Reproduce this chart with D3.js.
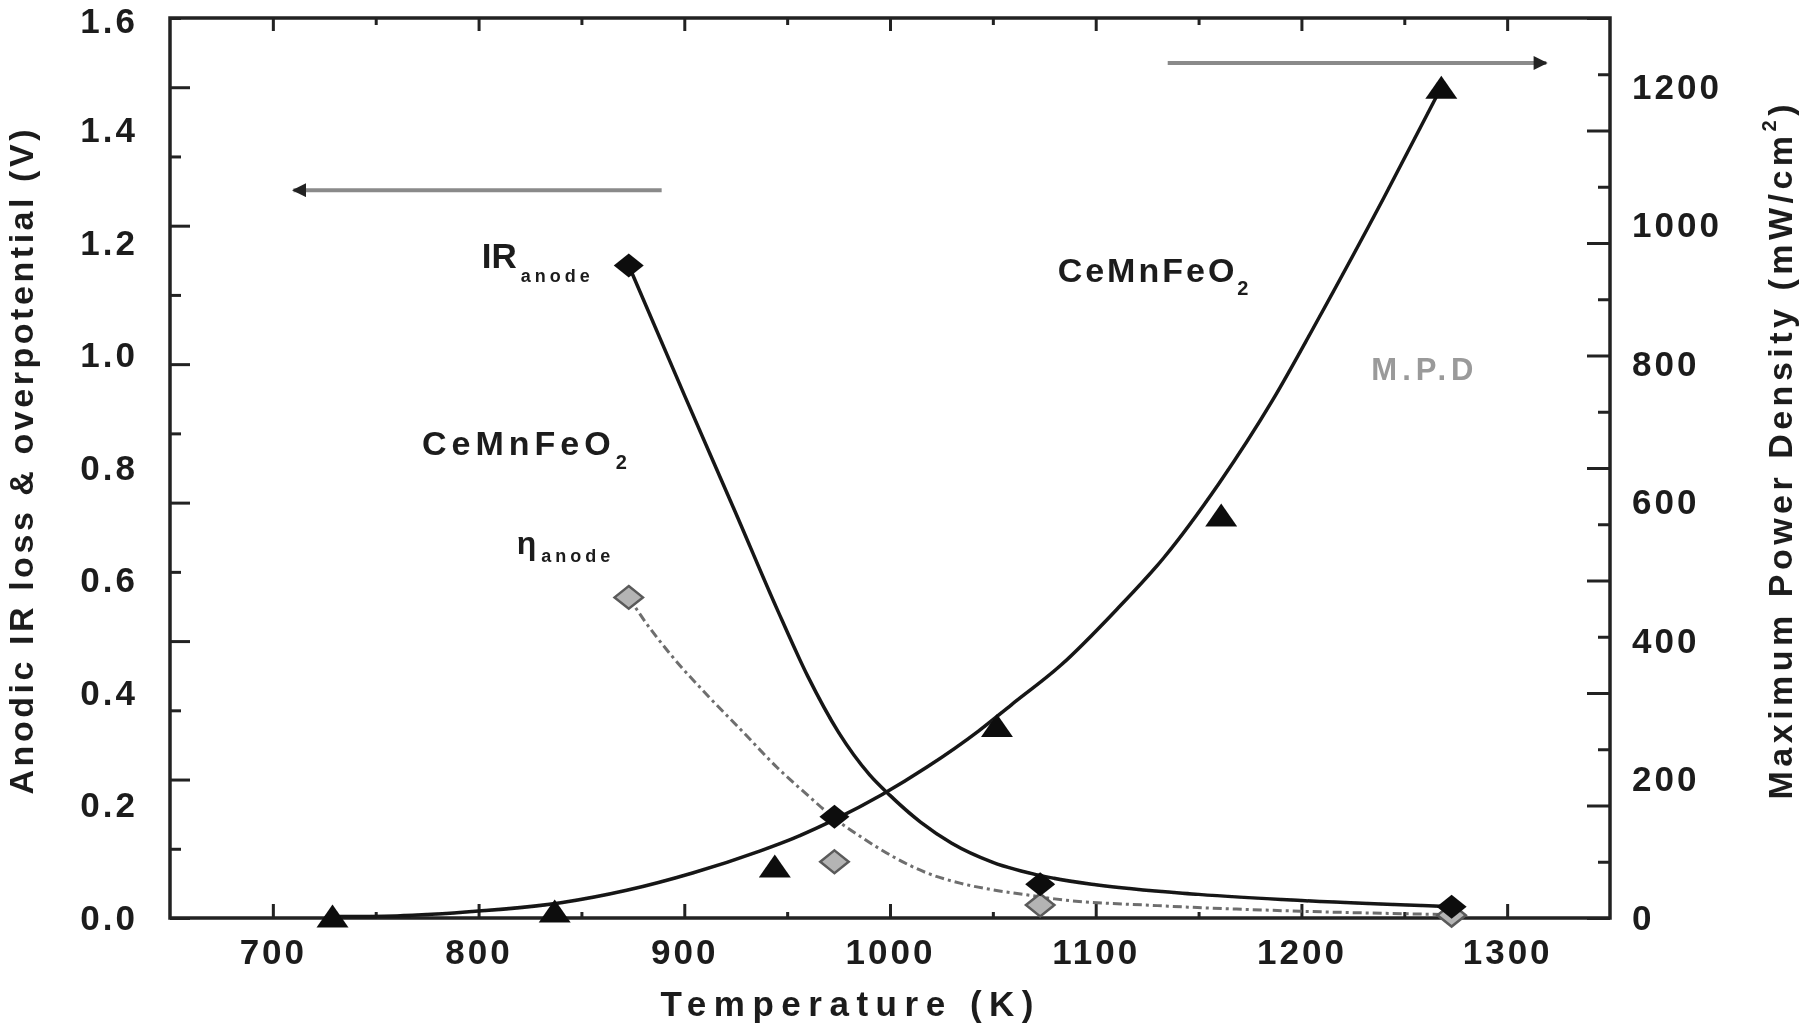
<!DOCTYPE html>
<html>
<head>
<meta charset="utf-8">
<script src="https://cdn.jsdelivr.net/npm/d3@7"></script>
<style>
body { margin: 0; background: #fff; }
svg text { font-family: "Liberation Sans", Arial, sans-serif; font-weight: bold; fill: #1c1c1c; }
.tick text { font-size: 35px; letter-spacing: 3px; }
</style>
</head>
<body>
<div id="chart"></div>
<script>
// measured points
var irTemps = [873, 973, 1073, 1273];
var irValues = [1.16, 0.18, 0.06, 0.02];
var etaTemps = [873, 973, 1073, 1273];
var etaValues = [0.57, 0.10, 0.023, 0.005];
var mpdTemps = [729, 837, 944, 1052, 1161, 1268];
var mpdValues = [3, 10, 75, 278, 582, 1200];

// fitted curves
var irFitT = [873, 900, 925, 945, 960, 975, 990, 1000, 1015, 1030, 1050, 1075, 1100, 1150, 1200, 1273];
var irFitV = [1.16, 0.93, 0.72, 0.55, 0.43, 0.33, 0.255, 0.218, 0.17, 0.133, 0.099, 0.074, 0.059, 0.042, 0.031, 0.02];
var etaFitT = [873, 877, 893, 912, 929, 945, 961, 972, 986, 1002, 1018, 1034, 1050, 1067, 1080, 1130, 1200, 1273];
var etaFitV = [0.571, 0.548, 0.47, 0.393, 0.329, 0.268, 0.215, 0.18, 0.144, 0.108, 0.08, 0.062, 0.05, 0.041, 0.034, 0.022, 0.012, 0.006];
var mpdFitT = [729, 760, 800, 840, 872, 904, 937, 953, 973, 996, 1018, 1043, 1059, 1083, 1110, 1133, 1160, 1186, 1210, 1240, 1268];
var mpdFitV = [2, 3, 10, 22, 40, 65, 97, 115, 142, 178, 218, 270, 308, 365, 445, 520, 628, 748, 875, 1040, 1200];

// ticks and labels
var xLabels = [700, 800, 900, 1000, 1100, 1200, 1300];
var xMinor = [750, 850, 950, 1050, 1150, 1250];
var leftLabels = [0, 0.2, 0.4, 0.6, 0.8, 1.0, 1.2, 1.4, 1.6];
var rightLabels = [0, 200, 400, 600, 800, 1000, 1200];
// the frame ticks are swapped in the original: left side follows mW/cm2, right side follows V
var leftTickMajor = [0, 200, 400, 600, 800, 1000, 1200];
var leftTickMinor = [100, 300, 500, 700, 900, 1100, 1300];
var rightTickMajor = [0, 0.2, 0.4, 0.6, 0.8, 1.0, 1.2, 1.4, 1.6];
var rightTickMinor = [0.1, 0.3, 0.5, 0.7, 0.9, 1.1, 1.3, 1.5];

var width = 1800, height = 1030;
var margin = {left: 170, right: 190, top: 18, bottom: 112};
var x0 = margin.left, x1 = width - margin.right, y0 = height - margin.bottom, y1 = margin.top;

var x = d3.scaleLinear().domain([650, 1350]).range([x0, x1]);
var yL = d3.scaleLinear().domain([0, 1.6]).range([y0, y1]);
var yR = d3.scaleLinear().domain([0, 1300]).range([y0, y1]);

var svg = d3.select("#chart").append("svg")
    .attr("width", width)
    .attr("height", height);

var defs = svg.append("defs");
defs.append("filter").attr("id", "soft")
  .append("feGaussianBlur").attr("stdDeviation", 0.55);
defs.append("marker")
    .attr("id", "head")
    .attr("viewBox", "0 0 10 10")
    .attr("refX", 9).attr("refY", 5)
    .attr("markerWidth", 5).attr("markerHeight", 3.5)
    .attr("markerUnits", "strokeWidth")
    .attr("orient", "auto")
  .append("path")
    .attr("d", "M0,0 L10,5 L0,10 Z")
    .attr("fill", "#222");

var g = svg.append("g").attr("filter", "url(#soft)");

function tickAxis(axis, pos, vals, size) {
  g.append("g")
      .attr("transform", pos)
      .call(axis.tickValues(vals).tickSize(size).tickFormat(""))
      .call(function(s) { s.select(".domain").remove(); })
    .selectAll("line")
      .attr("stroke", "#222")
      .attr("stroke-width", 3);
}

// bottom / top ticks
tickAxis(d3.axisBottom(x), "translate(0," + y0 + ")", xLabels, -14);
tickAxis(d3.axisBottom(x), "translate(0," + y0 + ")", xMinor, -6);
tickAxis(d3.axisTop(x), "translate(0," + y1 + ")", xLabels, -13);
tickAxis(d3.axisTop(x), "translate(0," + y1 + ")", xMinor, -7);
// left ticks (mW scale)
tickAxis(d3.axisLeft(yR), "translate(" + x0 + ",0)", leftTickMajor, -20);
tickAxis(d3.axisLeft(yR), "translate(" + x0 + ",0)", leftTickMinor, -11);
// right ticks (V scale)
tickAxis(d3.axisRight(yL), "translate(" + x1 + ",0)", rightTickMajor, -23);
tickAxis(d3.axisRight(yL), "translate(" + x1 + ",0)", rightTickMinor, -12);

// frame
g.append("rect")
    .attr("x", x0).attr("y", y1)
    .attr("width", x1 - x0).attr("height", y0 - y1)
    .attr("fill", "none")
    .attr("stroke", "#222")
    .attr("stroke-width", 3.5);

function labelAxis(axis, pos, vals, fmt, pad) {
  return g.append("g")
      .attr("transform", pos)
      .attr("font-size", null).attr("font-family", null)
      .call(axis.tickValues(vals).tickSize(0).tickPadding(pad).tickFormat(fmt))
      .call(function(s) { s.select(".domain").remove(); });
}
labelAxis(d3.axisBottom(x), "translate(0," + y0 + ")", xLabels, d3.format("d"), 21);
labelAxis(d3.axisLeft(yL), "translate(" + x0 + ",0)", leftLabels, d3.format(".1f"), 32)
  .selectAll("text")
    .filter(function(d) { return d === 1.6; })
    .attr("dy", "0.42em"); // keep the top label inside the page
labelAxis(d3.axisRight(yR), "translate(" + x1 + ",0)", rightLabels, d3.format("d"), 22);

// axis titles
g.append("text")
    .attr("x", 847).attr("y", 1016)
    .attr("text-anchor", "middle")
    .attr("font-size", 35)
    .attr("textLength", 373).attr("lengthAdjust", "spacing")
    .text("Temperature (K)");

g.append("text")
    .attr("transform", "translate(33,462) rotate(-90)")
    .attr("text-anchor", "middle")
    .attr("font-size", 34)
    .attr("textLength", 665).attr("lengthAdjust", "spacing")
    .text("Anodic IR loss & overpotential (V)");

var rt = g.append("text")
    .attr("transform", "translate(1792,452) rotate(-90)")
    .attr("text-anchor", "middle")
    .attr("font-size", 34)
    .attr("textLength", 695).attr("lengthAdjust", "spacing");
rt.append("tspan").text("Maximum Power Density (mW/cm");
rt.append("tspan").attr("dy", -16).attr("font-size", 20).text("2");
rt.append("tspan").attr("dy", 16).text(")");

// fitted lines
var lineL = d3.line().x(function(d) { return x(d[0]); }).y(function(d) { return yL(d[1]); }).curve(d3.curveMonotoneX);
var lineR = d3.line().x(function(d) { return x(d[0]); }).y(function(d) { return yR(d[1]); }).curve(d3.curveMonotoneX);

g.append("path")
    .attr("d", lineL(d3.zip(etaFitT, etaFitV)))
    .attr("fill", "none")
    .attr("stroke", "#6e6e6e")
    .attr("stroke-width", 3)
    .attr("stroke-dasharray", "9,4,3,4");

g.append("path")
    .attr("d", lineL(d3.zip(irFitT, irFitV)))
    .attr("fill", "none")
    .attr("stroke", "#151515")
    .attr("stroke-width", 3.5);

g.append("path")
    .attr("d", lineR(d3.zip(mpdFitT, mpdFitV)))
    .attr("fill", "none")
    .attr("stroke", "#151515")
    .attr("stroke-width", 3.5);

// marker shapes
var diamond = { draw: function(ctx, size) {
  var w = Math.sqrt(size) * 0.6, h = Math.sqrt(size) * 0.48;
  ctx.moveTo(0, -h); ctx.lineTo(w, 0); ctx.lineTo(0, h); ctx.lineTo(-w, 0); ctx.closePath();
}};
var triangle = { draw: function(ctx, size) {
  var w = Math.sqrt(size) * 0.64, h = Math.sqrt(size) * 0.46;
  ctx.moveTo(0, -h); ctx.lineTo(w, h); ctx.lineTo(-w, h); ctx.closePath();
}};

g.selectAll(".eta")
    .data(d3.zip(etaTemps, etaValues))
  .enter().append("path")
    .attr("class", "eta")
    .attr("transform", function(d) { return "translate(" + x(d[0]) + "," + yL(d[1]) + ")"; })
    .attr("d", d3.symbol().type(diamond).size(560))
    .attr("fill", "#b4b4b4")
    .attr("stroke", "#5a5a5a")
    .attr("stroke-width", 2.5);

g.selectAll(".ir")
    .data(d3.zip(irTemps, irValues))
  .enter().append("path")
    .attr("class", "ir")
    .attr("transform", function(d) { return "translate(" + x(d[0]) + "," + yL(d[1]) + ")"; })
    .attr("d", d3.symbol().type(diamond).size(625))
    .attr("fill", "#111");

g.selectAll(".mpd")
    .data(d3.zip(mpdTemps, mpdValues))
  .enter().append("path")
    .attr("class", "mpd")
    .attr("transform", function(d) { return "translate(" + x(d[0]) + "," + yR(d[1]) + ")"; })
    .attr("d", d3.symbol().type(triangle).size(625))
    .attr("fill", "#111");

// axis arrows (left arrow -> V axis, right arrow -> mW axis)
g.append("line")
    .attr("x1", x(889)).attr("x2", x(710))
    .attr("y1", yL(1.294)).attr("y2", yL(1.294))
    .attr("stroke", "#8a8a8a").attr("stroke-width", 4)
    .attr("marker-end", "url(#head)");
g.append("line")
    .attr("x1", x(1135)).attr("x2", x(1319))
    .attr("y1", yR(1235)).attr("y2", yR(1235))
    .attr("stroke", "#8a8a8a").attr("stroke-width", 4)
    .attr("marker-end", "url(#head)");

// annotations
var t;
t = g.append("text").attr("x", x(801.5)).attr("y", yL(1.156)).attr("font-size", 35);
t.append("tspan").text("IR");
t.append("tspan").attr("dy", 14).attr("font-size", 18).attr("letter-spacing", 4).attr("dx", 4).text("anode");

t = g.append("text").attr("x", x(772.5)).attr("y", yL(0.823)).attr("font-size", 34).attr("letter-spacing", 5);
t.append("tspan").text("CeMnFeO");
t.append("tspan").attr("dy", 14).attr("font-size", 20).text("2");

t = g.append("text").attr("x", x(818.5)).attr("y", yL(0.648)).attr("font-size", 32);
t.append("tspan").text("η");
t.append("tspan").attr("dy", 8).attr("font-size", 18).attr("letter-spacing", 4).attr("dx", 5).text("anode");

t = g.append("text").attr("x", x(1081.5)).attr("y", yL(1.131)).attr("font-size", 34).attr("letter-spacing", 3);
t.append("tspan").text("CeMnFeO");
t.append("tspan").attr("dy", 13).attr("font-size", 20).text("2");

g.append("text")
    .attr("x", x(1234)).attr("y", yL(0.956))
    .attr("font-size", 31).attr("letter-spacing", 5)
    .style("fill", "#9a9a9a")
    .text("M.P.D");
</script>
</body>
</html>
